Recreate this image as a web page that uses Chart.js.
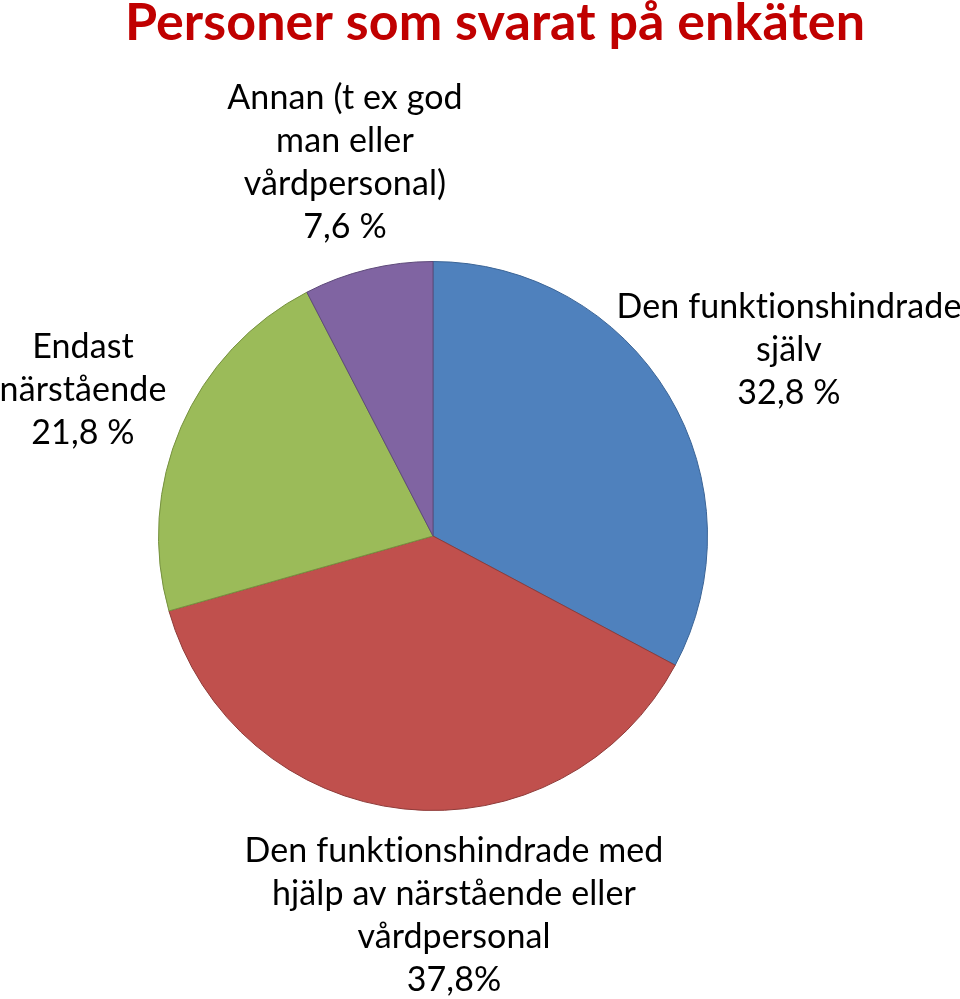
<!DOCTYPE html>
<html>
<head>
<meta charset="utf-8">
<script src="https://cdn.jsdelivr.net/npm/chart.js@4"></script>
<style>
  html, body { margin: 0; padding: 0; background: #fff; }
  #wrap { width: 960px; height: 999px; position: relative; }
</style>
</head>
<body>
<div id="wrap"><canvas id="pieChart" width="960" height="999"></canvas></div>
<script>
// Chart data
const categories = [
  'Den funktionshindrade själv',
  'Den funktionshindrade med hjälp av närstående eller vårdpersonal',
  'Endast närstående',
  'Annan (t ex god man eller vårdpersonal)'
];
const values = [32.8, 37.8, 21.8, 7.6];
const sliceColors = ['#4F81BD', '#C0504D', '#9BBB59', '#8064A2'];
const sliceBorders = ['#3B6496', '#8E3B39', '#76913F', '#5E4A7A'];

// label lines as they appear on the picture
const labelLines = [
  ['Den funktionshindrade', 'själv', '32,8 %'],
  ['Den funktionshindrade med', 'hjälp av närstående eller', 'vårdpersonal', '37,8%'],
  ['Endast', 'närstående', '21,8 %'],
  ['Annan (t ex god', 'man eller', 'vårdpersonal)', '7,6 %']
];
const titleText = 'Personer som svarat på enkäten';

// where each label block sits (x centre, y of first line centre)
const labelPos = [
  { x: 789, y: 307 },
  { x: 454, y: 851 },
  { x: 83, y: 347 },
  { x: 345, y: 98 }
];

const textPlugin = {
  id: 'textPlugin',
  afterDraw(chart) {
    const c = chart.ctx;
    c.save();
    c.textAlign = 'center';
    c.textBaseline = 'middle';
    // a tiny letter spacing keeps Lato from joining "ti"
    c.letterSpacing = '0.1px';
    // title
    c.fillStyle = '#C00000';
    c.font = 'bold 52px Lato, "Liberation Sans", sans-serif';
    c.fillText(titleText, 495, 23, 746);
    // slice labels
    c.fillStyle = '#000';
    c.font = '34px Lato, "Liberation Sans", sans-serif';
    labelLines.forEach((lines, i) => {
      lines.forEach((line, j) => {
        c.fillText(line, labelPos[i].x, labelPos[i].y + j * 43);
      });
    });
    c.restore();
  }
};

const ctx = document.getElementById('pieChart').getContext('2d');
const pieChart = new Chart(ctx, {
  type: 'pie',
  data: {
    labels: categories,
    datasets: [{
      data: values,
      backgroundColor: sliceColors,
      borderColor: sliceBorders,
      borderWidth: 1
    }]
  },
  options: {
    responsive: false,
    animation: false,
    layout: {
      padding: { top: 261, bottom: 188, left: 158, right: 252 }
    },
    plugins: {
      legend: { display: false },
      tooltip: { enabled: false }
    }
  },
  plugins: [textPlugin]
});
</script>
</body>
</html>
